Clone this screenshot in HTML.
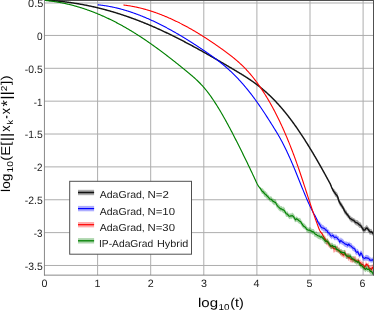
<!DOCTYPE html>
<html><head><meta charset="utf-8"><title>chart</title>
<style>
html,body{margin:0;padding:0;background:#ffffff;}
body{width:374px;height:311px;overflow:hidden;position:relative;font-family:"Liberation Sans",sans-serif;}
text{font-kerning:none;text-rendering:geometricPrecision;}
svg{will-change:transform;}
</style></head><body>
<svg width="374" height="311" viewBox="0 0 374 311" style="position:absolute;left:0;top:0;display:block">
<rect x="0" y="0" width="374" height="311" fill="#ffffff"/>
<path d="M97.60,0.5 V275.1 M150.70,0.5 V275.1 M203.80,0.5 V275.1 M256.90,0.5 V275.1 M310.00,0.5 V275.1 M363.10,0.5 V275.1 M44.5,2.99 H373.5 M44.5,35.45 H373.5 M44.5,68.31 H373.5 M44.5,101.17 H373.5 M44.5,134.03 H373.5 M44.5,166.89 H373.5 M44.5,199.75 H373.5 M44.5,232.61 H373.5 M44.5,265.47 H373.5" stroke="#adadad" stroke-width="1" fill="none"/>
<path d="M44.0,0.5 H374" stroke="#505050" stroke-width="1" fill="none"/>
<clipPath id="c"><rect x="44.5" y="0" width="329.0" height="275.1"/></clipPath>
<g clip-path="url(#c)" fill="none" stroke-linejoin="round" stroke-linecap="butt">
<path d="M330.00,183.44 L330.50,183.90 L331.00,184.82 L331.50,186.32 L332.00,187.43 L332.50,188.06 L333.00,188.20 L333.50,188.85 L334.00,189.47 L334.50,189.36 L335.00,190.05 L335.50,191.28 L336.00,191.86 L336.50,192.02 L337.00,192.43 L337.50,193.34 L338.00,195.24 L338.50,197.06 L339.00,198.44 L339.50,199.54 L340.00,200.63 L340.50,201.20 L341.00,202.18 L341.50,202.47 L342.00,203.35 L342.50,203.92 L343.00,205.44 L343.50,205.95 L344.00,206.85 L344.50,208.08 L345.00,208.83 L345.50,209.81 L346.00,209.75 L346.50,210.53 L347.00,211.41 L347.50,212.92 L348.00,213.00 L348.50,213.15 L349.00,214.44 L349.50,215.87 L350.00,215.54 L350.50,215.83 L351.00,216.66 L351.50,216.80 L352.00,217.21 L352.50,217.21 L353.00,218.00 L353.50,217.98 L354.00,218.16 L354.50,218.70 L355.00,218.59 L355.50,220.08 L356.00,219.86 L356.50,220.07 L357.00,220.36 L357.50,220.26 L358.00,220.32 L358.50,221.42 L359.00,221.61 L359.50,222.28 L360.00,222.23 L360.50,222.45 L361.00,222.69 L361.50,224.62 L362.00,224.98 L362.50,225.85 L363.00,227.10 L363.50,227.39 L364.00,226.91 L364.50,227.08 L365.00,226.84 L365.50,226.24 L366.00,225.60 L366.50,224.73 L367.00,225.43 L367.50,225.38 L368.00,226.69 L368.50,227.03 L369.00,227.71 L369.50,228.49 L370.00,228.79 L370.50,229.14 L371.00,228.76 L371.50,229.11 L372.00,230.20 L372.50,230.74 L373.00,231.14 L373.50,231.49 L373.50,236.67 L373.00,236.00 L372.50,235.20 L372.00,235.28 L371.50,234.27 L371.00,234.52 L370.50,234.42 L370.00,235.12 L369.50,234.21 L369.00,233.20 L368.50,232.24 L368.00,232.16 L367.50,231.04 L367.00,230.75 L366.50,230.51 L366.00,230.95 L365.50,231.71 L365.00,232.09 L364.50,232.38 L364.00,232.88 L363.50,233.27 L363.00,231.50 L362.50,230.98 L362.00,230.22 L361.50,229.60 L361.00,228.34 L360.50,228.08 L360.00,227.93 L359.50,227.90 L359.00,227.60 L358.50,226.72 L358.00,226.42 L357.50,225.79 L357.00,225.66 L356.50,225.31 L356.00,225.53 L355.50,224.70 L355.00,224.40 L354.50,224.03 L354.00,223.02 L353.50,222.59 L353.00,222.60 L352.50,222.30 L352.00,222.35 L351.50,222.53 L351.00,221.79 L350.50,221.45 L350.00,220.81 L349.50,220.20 L349.00,219.52 L348.50,217.96 L348.00,217.83 L347.50,217.72 L347.00,216.72 L346.50,216.16 L346.00,215.85 L345.50,214.53 L345.00,214.71 L344.50,213.76 L344.00,212.67 L343.50,211.20 L343.00,210.30 L342.50,209.04 L342.00,209.30 L341.50,207.98 L341.00,207.46 L340.50,206.50 L340.00,206.31 L339.50,204.92 L339.00,203.96 L338.50,202.96 L338.00,200.38 L337.50,198.84 L337.00,198.54 L336.50,197.83 L336.00,197.05 L335.50,196.63 L335.00,196.42 L334.50,194.69 L334.00,194.09 L333.50,193.48 L333.00,192.10 L332.50,190.86 L332.00,189.38 L331.50,187.96 L331.00,186.29 L330.50,185.20 L330.00,183.44Z" fill="#000000" fill-opacity="0.36" stroke="none"/>
<path d="M44.50,0.20 L45.00,0.22 L45.50,0.25 L46.00,0.27 L46.50,0.29 L47.00,0.32 L47.50,0.34 L48.00,0.37 L48.50,0.40 L49.00,0.43 L49.50,0.46 L50.00,0.49 L50.50,0.52 L51.00,0.56 L51.50,0.59 L52.00,0.63 L52.50,0.66 L53.00,0.70 L53.50,0.74 L54.00,0.78 L54.50,0.82 L55.00,0.86 L55.50,0.90 L56.00,0.94 L56.50,0.98 L57.00,1.03 L57.50,1.07 L58.00,1.12 L58.50,1.17 L59.00,1.22 L59.50,1.27 L60.00,1.32 L60.50,1.37 L61.00,1.42 L61.50,1.47 L62.00,1.53 L62.50,1.58 L63.00,1.64 L63.50,1.70 L64.00,1.75 L64.50,1.81 L65.00,1.87 L65.50,1.93 L66.00,1.99 L66.50,2.06 L67.00,2.12 L67.50,2.18 L68.00,2.25 L68.50,2.32 L69.00,2.38 L69.50,2.45 L70.00,2.52 L70.50,2.59 L71.00,2.66 L71.50,2.73 L72.00,2.81 L72.50,2.88 L73.00,2.96 L73.50,3.03 L74.00,3.11 L74.50,3.19 L75.00,3.27 L75.50,3.35 L76.00,3.43 L76.50,3.51 L77.00,3.59 L77.50,3.67 L78.00,3.76 L78.50,3.84 L79.00,3.93 L79.50,4.01 L80.00,4.10 L80.50,4.19 L81.00,4.28 L81.50,4.37 L82.00,4.46 L82.50,4.56 L83.00,4.65 L83.50,4.74 L84.00,4.84 L84.50,4.94 L85.00,5.03 L85.50,5.13 L86.00,5.23 L86.50,5.33 L87.00,5.43 L87.50,5.53 L88.00,5.63 L88.50,5.74 L89.00,5.84 L89.50,5.95 L90.00,6.05 L90.50,6.16 L91.00,6.27 L91.50,6.38 L92.00,6.49 L92.50,6.60 L93.00,6.71 L93.50,6.82 L94.00,6.94 L94.50,7.05 L95.00,7.17 L95.50,7.28 L96.00,7.40 L96.50,7.52 L97.00,7.64 L97.50,7.76 L98.00,7.88 L98.50,8.00 L99.00,8.12 L99.50,8.25 L100.00,8.37 L100.50,8.50 L101.00,8.62 L101.50,8.75 L102.00,8.88 L102.50,9.01 L103.00,9.14 L103.50,9.27 L104.00,9.40 L104.50,9.53 L105.00,9.67 L105.50,9.80 L106.00,9.94 L106.50,10.07 L107.00,10.21 L107.50,10.35 L108.00,10.49 L108.50,10.63 L109.00,10.77 L109.50,10.91 L110.00,11.05 L110.50,11.20 L111.00,11.34 L111.50,11.49 L112.00,11.63 L112.50,11.78 L113.00,11.93 L113.50,12.07 L114.00,12.22 L114.50,12.37 L115.00,12.53 L115.50,12.68 L116.00,12.83 L116.50,12.99 L117.00,13.14 L117.50,13.30 L118.00,13.45 L118.50,13.61 L119.00,13.77 L119.50,13.93 L120.00,14.09 L120.50,14.25 L121.00,14.41 L121.50,14.57 L122.00,14.74 L122.50,14.90 L123.00,15.07 L123.50,15.23 L124.00,15.40 L124.50,15.57 L125.00,15.74 L125.50,15.91 L126.00,16.08 L126.50,16.25 L127.00,16.42 L127.50,16.60 L128.00,16.77 L128.50,16.95 L129.00,17.12 L129.50,17.30 L130.00,17.48 L130.50,17.66 L131.00,17.83 L131.50,18.02 L132.00,18.20 L132.50,18.38 L133.00,18.56 L133.50,18.75 L134.00,18.93 L134.50,19.12 L135.00,19.30 L135.50,19.49 L136.00,19.68 L136.50,19.87 L137.00,20.06 L137.50,20.25 L138.00,20.44 L138.50,20.63 L139.00,20.82 L139.50,21.02 L140.00,21.21 L140.50,21.41 L141.00,21.60 L141.50,21.80 L142.00,22.00 L142.50,22.20 L143.00,22.40 L143.50,22.60 L144.00,22.80 L144.50,23.01 L145.00,23.21 L145.50,23.41 L146.00,23.62 L146.50,23.82 L147.00,24.03 L147.50,24.24 L148.00,24.45 L148.50,24.66 L149.00,24.87 L149.50,25.08 L150.00,25.29 L150.50,25.50 L151.00,25.72 L151.50,25.93 L152.00,26.15 L152.50,26.36 L153.00,26.58 L153.50,26.80 L154.00,27.02 L154.50,27.24 L155.00,27.46 L155.50,27.68 L156.00,27.90 L156.50,28.12 L157.00,28.35 L157.50,28.57 L158.00,28.79 L158.50,29.02 L159.00,29.25 L159.50,29.47 L160.00,29.70 L160.50,29.93 L161.00,30.16 L161.50,30.39 L162.00,30.62 L162.50,30.86 L163.00,31.09 L163.50,31.32 L164.00,31.56 L164.50,31.79 L165.00,32.03 L165.50,32.26 L166.00,32.50 L166.50,32.74 L167.00,32.98 L167.50,33.22 L168.00,33.46 L168.50,33.70 L169.00,33.94 L169.50,34.18 L170.00,34.42 L170.50,34.67 L171.00,34.91 L171.50,35.15 L172.00,35.40 L172.50,35.65 L173.00,35.89 L173.50,36.14 L174.00,36.39 L174.50,36.64 L175.00,36.89 L175.50,37.14 L176.00,37.39 L176.50,37.64 L177.00,37.89 L177.50,38.14 L178.00,38.40 L178.50,38.65 L179.00,38.90 L179.50,39.16 L180.00,39.42 L180.50,39.67 L181.00,39.93 L181.50,40.19 L182.00,40.44 L182.50,40.70 L183.00,40.96 L183.50,41.22 L184.00,41.48 L184.50,41.74 L185.00,42.00 L185.50,42.27 L186.00,42.53 L186.50,42.79 L187.00,43.06 L187.50,43.32 L188.00,43.59 L188.50,43.85 L189.00,44.12 L189.50,44.38 L190.00,44.65 L190.50,44.92 L191.00,45.19 L191.50,45.45 L192.00,45.72 L192.50,45.99 L193.00,46.26 L193.50,46.53 L194.00,46.80 L194.50,47.08 L195.00,47.35 L195.50,47.62 L196.00,47.89 L196.50,48.17 L197.00,48.44 L197.50,48.72 L198.00,48.99 L198.50,49.27 L199.00,49.54 L199.50,49.82 L200.00,50.09 L200.50,50.37 L201.00,50.65 L201.50,50.93 L202.00,51.20 L202.50,51.48 L203.00,51.76 L203.50,52.04 L204.00,52.32 L204.50,52.60 L205.00,52.88 L205.50,53.17 L206.00,53.45 L206.50,53.73 L207.00,54.01 L207.50,54.29 L208.00,54.58 L208.50,54.86 L209.00,55.14 L209.50,55.43 L210.00,55.71 L210.50,56.00 L211.00,56.28 L211.50,56.57 L212.00,56.86 L212.50,57.14 L213.00,57.43 L213.50,57.72 L214.00,58.00 L214.50,58.29 L215.00,58.58 L215.50,58.87 L216.00,59.16 L216.50,59.45 L217.00,59.73 L217.50,60.02 L218.00,60.31 L218.50,60.60 L219.00,60.89 L219.50,61.19 L220.00,61.48 L220.50,61.77 L221.00,62.06 L221.50,62.35 L222.00,62.64 L222.50,62.94 L223.00,63.23 L223.50,63.52 L224.00,63.81 L224.50,64.11 L225.00,64.40 L225.50,64.70 L226.00,64.99 L226.50,65.28 L227.00,65.58 L227.50,65.87 L228.00,66.17 L228.50,66.46 L229.00,66.76 L229.50,67.05 L230.00,67.35 L230.50,67.65 L231.00,67.94 L231.50,68.24 L232.00,68.54 L232.50,68.83 L233.00,69.13 L233.50,69.43 L234.00,69.72 L234.50,70.02 L235.00,70.32 L235.50,70.62 L236.00,70.92 L236.50,71.21 L237.00,71.51 L237.50,71.81 L238.00,72.11 L238.50,72.41 L239.00,72.72 L239.50,73.02 L240.00,73.32 L240.50,73.63 L241.00,73.93 L241.50,74.24 L242.00,74.55 L242.50,74.86 L243.00,75.17 L243.50,75.48 L244.00,75.80 L244.50,76.11 L245.00,76.43 L245.50,76.75 L246.00,77.07 L246.50,77.39 L247.00,77.71 L247.50,78.04 L248.00,78.37 L248.50,78.70 L249.00,79.03 L249.50,79.36 L250.00,79.70 L250.50,80.04 L251.00,80.38 L251.50,80.73 L252.00,81.07 L252.50,81.42 L253.00,81.78 L253.50,82.13 L254.00,82.49 L254.50,82.85 L255.00,83.21 L255.50,83.58 L256.00,83.95 L256.50,84.32 L257.00,84.70 L257.50,85.08 L258.00,85.46 L258.50,85.85 L259.00,86.24 L259.50,86.64 L260.00,87.03 L260.50,87.44 L261.00,87.84 L261.50,88.25 L262.00,88.66 L262.50,89.08 L263.00,89.50 L263.50,89.93 L264.00,90.35 L264.50,90.79 L265.00,91.22 L265.50,91.66 L266.00,92.11 L266.50,92.56 L267.00,93.01 L267.50,93.47 L268.00,93.93 L268.50,94.39 L269.00,94.86 L269.50,95.34 L270.00,95.81 L270.50,96.29 L271.00,96.78 L271.50,97.27 L272.00,97.76 L272.50,98.26 L273.00,98.76 L273.50,99.27 L274.00,99.78 L274.50,100.30 L275.00,100.82 L275.50,101.34 L276.00,101.87 L276.50,102.40 L277.00,102.94 L277.50,103.48 L278.00,104.03 L278.50,104.58 L279.00,105.13 L279.50,105.69 L280.00,106.26 L280.50,106.82 L281.00,107.40 L281.50,107.97 L282.00,108.56 L282.50,109.14 L283.00,109.73 L283.50,110.33 L284.00,110.93 L284.50,111.53 L285.00,112.14 L285.50,112.76 L286.00,113.38 L286.50,114.00 L287.00,114.63 L287.50,115.26 L288.00,115.90 L288.50,116.54 L289.00,117.19 L289.50,117.84 L290.00,118.50 L290.50,119.16 L291.00,119.83 L291.50,120.50 L292.00,121.18 L292.50,121.86 L293.00,122.54 L293.50,123.23 L294.00,123.92 L294.50,124.62 L295.00,125.32 L295.50,126.03 L296.00,126.74 L296.50,127.45 L297.00,128.17 L297.50,128.90 L298.00,129.62 L298.50,130.35 L299.00,131.09 L299.50,131.83 L300.00,132.57 L300.50,133.32 L301.00,134.07 L301.50,134.83 L302.00,135.59 L302.50,136.35 L303.00,137.12 L303.50,137.89 L304.00,138.67 L304.50,139.45 L305.00,140.23 L305.50,141.02 L306.00,141.81 L306.50,142.60 L307.00,143.40 L307.50,144.20 L308.00,145.00 L308.50,145.81 L309.00,146.62 L309.50,147.44 L310.00,148.26 L310.50,149.08 L311.00,149.90 L311.50,150.73 L312.00,151.56 L312.50,152.40 L313.00,153.24 L313.50,154.08 L314.00,154.92 L314.50,155.77 L315.00,156.62 L315.50,157.48 L316.00,158.33 L316.50,159.19 L317.00,160.06 L317.50,160.92 L318.00,161.79 L318.50,162.66 L319.00,163.54 L319.50,164.41 L320.00,165.30 L320.50,166.18 L321.00,167.06 L321.50,167.95 L322.00,168.84 L322.50,169.74 L323.00,170.63 L323.50,171.53 L324.00,172.44 L324.50,173.34 L325.00,174.25 L325.50,175.15 L326.00,176.07 L326.50,176.98 L327.00,177.90 L327.50,178.82 L328.00,179.74 L328.50,180.66 L329.00,181.58 L329.50,182.51 L330.00,183.44 L330.50,184.43 L331.00,185.63 L331.50,186.97 L332.00,188.11 L332.50,189.14 L333.00,190.21 L333.50,191.15 L334.00,191.71 L334.50,192.10 L335.00,193.04 L335.50,193.95 L336.00,194.43 L336.50,194.97 L337.00,195.63 L337.50,196.47 L338.00,197.74 L338.50,199.99 L339.00,201.18 L339.50,202.18 L340.00,203.15 L340.50,204.00 L341.00,204.73 L341.50,205.43 L342.00,206.16 L342.50,206.92 L343.00,207.80 L343.50,208.66 L344.00,209.77 L344.50,210.88 L345.00,211.59 L345.50,212.30 L346.00,212.93 L346.50,213.54 L347.00,214.22 L347.50,214.86 L348.00,215.41 L348.50,215.88 L349.00,216.93 L349.50,217.95 L350.00,218.31 L350.50,218.64 L351.00,219.00 L351.50,219.35 L352.00,219.71 L352.50,220.06 L353.00,220.12 L353.50,220.16 L354.00,220.69 L354.50,221.20 L355.00,221.90 L355.50,222.59 L356.00,222.62 L356.50,222.64 L357.00,222.85 L357.50,223.06 L358.00,223.53 L358.50,224.00 L359.00,224.53 L359.50,225.08 L360.00,225.12 L360.50,225.25 L361.00,226.08 L361.50,226.95 L362.00,227.60 L362.50,228.22 L363.00,229.20 L363.50,230.08 L364.00,230.15 L364.50,230.04 L365.00,229.91 L365.50,229.09 L366.00,228.27 L366.50,228.03 L367.00,228.02 L367.50,228.53 L368.00,229.30 L368.50,229.76 L369.00,230.51 L369.50,231.21 L370.00,231.65 L370.50,232.02 L371.00,231.96 L371.50,231.82 L372.00,232.35 L372.50,232.85 L373.00,233.44 L373.50,233.98" stroke="#151515" stroke-width="1.45"/>
<path d="M315.30,215.76 L315.80,215.62 L316.30,218.42 L316.80,218.27 L317.30,219.62 L317.80,219.54 L318.30,220.82 L318.80,221.11 L319.30,221.75 L319.80,221.83 L320.30,222.35 L320.80,223.67 L321.30,223.45 L321.80,224.20 L322.30,225.07 L322.80,224.76 L323.30,225.25 L323.80,225.45 L324.30,226.54 L324.80,226.56 L325.30,226.65 L325.80,227.79 L326.30,227.06 L326.80,227.28 L327.30,228.91 L327.80,229.18 L328.30,229.78 L328.80,229.56 L329.30,230.76 L329.80,231.98 L330.30,231.82 L330.80,232.99 L331.30,232.75 L331.80,232.84 L332.30,232.38 L332.80,233.01 L333.30,234.06 L333.80,234.00 L334.30,234.01 L334.80,235.08 L335.30,234.40 L335.80,234.59 L336.30,234.59 L336.80,234.80 L337.30,235.66 L337.80,236.02 L338.30,236.38 L338.80,236.12 L339.30,238.00 L339.80,238.82 L340.30,238.46 L340.80,237.21 L341.30,238.09 L341.80,238.67 L342.30,238.44 L342.80,239.19 L343.30,239.39 L343.80,240.32 L344.30,241.18 L344.80,241.34 L345.30,241.12 L345.80,242.13 L346.30,240.93 L346.80,242.12 L347.30,241.90 L347.80,241.70 L348.30,243.03 L348.80,241.74 L349.30,241.59 L349.80,242.98 L350.30,242.87 L350.80,243.03 L351.30,242.96 L351.80,243.85 L352.30,244.87 L352.80,245.37 L353.30,245.83 L353.80,245.47 L354.30,246.79 L354.80,245.98 L355.30,247.56 L355.80,247.88 L356.30,248.62 L356.80,250.09 L357.30,248.82 L357.80,248.98 L358.30,250.09 L358.80,251.04 L359.30,252.04 L359.80,252.72 L360.30,251.28 L360.80,250.37 L361.30,250.86 L361.80,251.01 L362.30,252.62 L362.80,254.86 L363.30,254.96 L363.80,255.59 L364.30,256.53 L364.80,255.94 L365.30,255.17 L365.80,254.65 L366.30,254.69 L366.80,254.95 L367.30,254.94 L367.80,255.20 L368.30,255.30 L368.80,255.90 L369.30,256.31 L369.80,257.29 L370.30,256.79 L370.80,257.88 L371.30,257.52 L371.80,258.16 L372.30,257.45 L372.80,257.43 L373.30,257.55 L373.50,258.27 L373.50,263.74 L373.30,263.30 L372.80,262.07 L372.30,262.85 L371.80,262.70 L371.30,262.57 L370.80,262.37 L370.30,262.46 L369.80,262.62 L369.30,261.16 L368.80,261.63 L368.30,261.16 L367.80,260.84 L367.30,260.78 L366.80,261.36 L366.30,260.42 L365.80,260.04 L365.30,261.32 L364.80,261.11 L364.30,260.57 L363.80,261.04 L363.30,260.13 L362.80,260.39 L362.30,258.56 L361.80,256.69 L361.30,255.52 L360.80,255.49 L360.30,256.96 L359.80,258.45 L359.30,256.97 L358.80,256.99 L358.30,255.75 L357.80,254.02 L357.30,254.97 L356.80,255.46 L356.30,254.58 L355.80,254.52 L355.30,253.94 L354.80,251.88 L354.30,251.72 L353.80,251.54 L353.30,251.11 L352.80,250.69 L352.30,250.61 L351.80,249.19 L351.30,248.47 L350.80,248.60 L350.30,248.28 L349.80,248.46 L349.30,247.87 L348.80,247.01 L348.30,247.37 L347.80,247.95 L347.30,247.76 L346.80,247.91 L346.30,246.89 L345.80,247.10 L345.30,246.88 L344.80,246.60 L344.30,246.48 L343.80,246.12 L343.30,245.34 L342.80,244.75 L342.30,244.74 L341.80,244.73 L341.30,243.70 L340.80,243.79 L340.30,243.68 L339.80,244.53 L339.30,244.40 L338.80,242.23 L338.30,241.70 L337.80,241.85 L337.30,239.95 L336.80,240.25 L336.30,240.34 L335.80,239.35 L335.30,240.49 L334.80,240.03 L334.30,240.53 L333.80,239.23 L333.30,238.76 L332.80,237.86 L332.30,238.39 L331.80,239.50 L331.30,238.77 L330.80,238.02 L330.30,238.28 L329.80,236.88 L329.30,236.47 L328.80,236.09 L328.30,234.73 L327.80,236.47 L327.30,234.45 L326.80,232.32 L326.30,233.14 L325.80,233.13 L325.30,232.24 L324.80,231.49 L324.30,231.66 L323.80,231.57 L323.30,231.73 L322.80,230.18 L322.30,230.81 L321.80,230.54 L321.30,229.88 L320.80,229.09 L320.30,228.16 L319.80,227.08 L319.30,226.90 L318.80,225.52 L318.30,225.37 L317.80,224.13 L317.30,222.28 L316.80,221.18 L316.30,219.58 L315.80,217.26 L315.30,217.55Z" fill="#0000ff" fill-opacity="0.36" stroke="none"/>
<path d="M97.80,4.80 L98.30,4.85 L98.80,4.90 L99.30,4.95 L99.80,5.01 L100.30,5.07 L100.80,5.12 L101.30,5.19 L101.80,5.25 L102.30,5.31 L102.80,5.38 L103.30,5.45 L103.80,5.52 L104.30,5.59 L104.80,5.67 L105.30,5.74 L105.80,5.82 L106.30,5.90 L106.80,5.98 L107.30,6.07 L107.80,6.15 L108.30,6.24 L108.80,6.33 L109.30,6.42 L109.80,6.52 L110.30,6.61 L110.80,6.71 L111.30,6.81 L111.80,6.91 L112.30,7.01 L112.80,7.12 L113.30,7.22 L113.80,7.33 L114.30,7.44 L114.80,7.55 L115.30,7.67 L115.80,7.78 L116.30,7.90 L116.80,8.02 L117.30,8.14 L117.80,8.26 L118.30,8.38 L118.80,8.51 L119.30,8.64 L119.80,8.77 L120.30,8.90 L120.80,9.03 L121.30,9.17 L121.80,9.30 L122.30,9.44 L122.80,9.58 L123.30,9.72 L123.80,9.86 L124.30,10.01 L124.80,10.16 L125.30,10.30 L125.80,10.45 L126.30,10.61 L126.80,10.76 L127.30,10.91 L127.80,11.07 L128.30,11.23 L128.80,11.39 L129.30,11.55 L129.80,11.71 L130.30,11.88 L130.80,12.04 L131.30,12.21 L131.80,12.38 L132.30,12.55 L132.80,12.72 L133.30,12.90 L133.80,13.07 L134.30,13.25 L134.80,13.43 L135.30,13.61 L135.80,13.79 L136.30,13.98 L136.80,14.16 L137.30,14.35 L137.80,14.54 L138.30,14.73 L138.80,14.92 L139.30,15.11 L139.80,15.30 L140.30,15.50 L140.80,15.70 L141.30,15.90 L141.80,16.10 L142.30,16.30 L142.80,16.50 L143.30,16.71 L143.80,16.91 L144.30,17.12 L144.80,17.33 L145.30,17.54 L145.80,17.75 L146.30,17.96 L146.80,18.18 L147.30,18.39 L147.80,18.61 L148.30,18.83 L148.80,19.05 L149.30,19.27 L149.80,19.50 L150.30,19.72 L150.80,19.95 L151.30,20.17 L151.80,20.40 L152.30,20.63 L152.80,20.86 L153.30,21.10 L153.80,21.33 L154.30,21.56 L154.80,21.80 L155.30,22.04 L155.80,22.28 L156.30,22.52 L156.80,22.76 L157.30,23.00 L157.80,23.25 L158.30,23.49 L158.80,23.74 L159.30,23.99 L159.80,24.24 L160.30,24.49 L160.80,24.74 L161.30,24.99 L161.80,25.25 L162.30,25.50 L162.80,25.76 L163.30,26.02 L163.80,26.28 L164.30,26.54 L164.80,26.80 L165.30,27.06 L165.80,27.33 L166.30,27.59 L166.80,27.86 L167.30,28.13 L167.80,28.40 L168.30,28.67 L168.80,28.94 L169.30,29.21 L169.80,29.49 L170.30,29.76 L170.80,30.04 L171.30,30.31 L171.80,30.59 L172.30,30.87 L172.80,31.15 L173.30,31.43 L173.80,31.71 L174.30,32.00 L174.80,32.28 L175.30,32.57 L175.80,32.86 L176.30,33.14 L176.80,33.43 L177.30,33.72 L177.80,34.01 L178.30,34.31 L178.80,34.60 L179.30,34.89 L179.80,35.19 L180.30,35.49 L180.80,35.78 L181.30,36.08 L181.80,36.38 L182.30,36.68 L182.80,36.98 L183.30,37.28 L183.80,37.59 L184.30,37.89 L184.80,38.20 L185.30,38.50 L185.80,38.81 L186.30,39.12 L186.80,39.43 L187.30,39.74 L187.80,40.05 L188.30,40.36 L188.80,40.67 L189.30,40.99 L189.80,41.30 L190.30,41.62 L190.80,41.93 L191.30,42.25 L191.80,42.57 L192.30,42.89 L192.80,43.21 L193.30,43.53 L193.80,43.85 L194.30,44.17 L194.80,44.50 L195.30,44.82 L195.80,45.15 L196.30,45.47 L196.80,45.80 L197.30,46.13 L197.80,46.45 L198.30,46.78 L198.80,47.11 L199.30,47.44 L199.80,47.78 L200.30,48.11 L200.80,48.44 L201.30,48.77 L201.80,49.11 L202.30,49.44 L202.80,49.78 L203.30,50.12 L203.80,50.46 L204.30,50.79 L204.80,51.13 L205.30,51.47 L205.80,51.81 L206.30,52.16 L206.80,52.50 L207.30,52.84 L207.80,53.19 L208.30,53.54 L208.80,53.88 L209.30,54.23 L209.80,54.58 L210.30,54.94 L210.80,55.29 L211.30,55.65 L211.80,56.00 L212.30,56.36 L212.80,56.72 L213.30,57.09 L213.80,57.45 L214.30,57.82 L214.80,58.19 L215.30,58.56 L215.80,58.93 L216.30,59.31 L216.80,59.69 L217.30,60.07 L217.80,60.45 L218.30,60.83 L218.80,61.22 L219.30,61.61 L219.80,62.01 L220.30,62.40 L220.80,62.80 L221.30,63.20 L221.80,63.61 L222.30,64.01 L222.80,64.43 L223.30,64.84 L223.80,65.26 L224.30,65.68 L224.80,66.10 L225.30,66.53 L225.80,66.96 L226.30,67.39 L226.80,67.83 L227.30,68.27 L227.80,68.72 L228.30,69.17 L228.80,69.62 L229.30,70.07 L229.80,70.54 L230.30,71.00 L230.80,71.47 L231.30,71.94 L231.80,72.42 L232.30,72.90 L232.80,73.38 L233.30,73.87 L233.80,74.37 L234.30,74.86 L234.80,75.36 L235.30,75.87 L235.80,76.38 L236.30,76.89 L236.80,77.41 L237.30,77.93 L237.80,78.46 L238.30,78.99 L238.80,79.53 L239.30,80.07 L239.80,80.61 L240.30,81.16 L240.80,81.71 L241.30,82.27 L241.80,82.83 L242.30,83.39 L242.80,83.96 L243.30,84.54 L243.80,85.12 L244.30,85.70 L244.80,86.29 L245.30,86.88 L245.80,87.48 L246.30,88.08 L246.80,88.69 L247.30,89.30 L247.80,89.91 L248.30,90.53 L248.80,91.16 L249.30,91.78 L249.80,92.42 L250.30,93.06 L250.80,93.70 L251.30,94.35 L251.80,95.00 L252.30,95.66 L252.80,96.32 L253.30,96.99 L253.80,97.66 L254.30,98.33 L254.80,99.01 L255.30,99.70 L255.80,100.39 L256.30,101.09 L256.80,101.79 L257.30,102.49 L257.80,103.20 L258.30,103.91 L258.80,104.63 L259.30,105.35 L259.80,106.08 L260.30,106.81 L260.80,107.54 L261.30,108.28 L261.80,109.02 L262.30,109.76 L262.80,110.51 L263.30,111.26 L263.80,112.01 L264.30,112.77 L264.80,113.53 L265.30,114.30 L265.80,115.06 L266.30,115.83 L266.80,116.61 L267.30,117.38 L267.80,118.16 L268.30,118.94 L268.80,119.72 L269.30,120.51 L269.80,121.30 L270.30,122.09 L270.80,122.88 L271.30,123.67 L271.80,124.47 L272.30,125.27 L272.80,126.07 L273.30,126.87 L273.80,127.67 L274.30,128.48 L274.80,129.29 L275.30,130.10 L275.80,130.91 L276.30,131.73 L276.80,132.55 L277.30,133.39 L277.80,134.23 L278.30,135.07 L278.80,135.93 L279.30,136.80 L279.80,137.68 L280.30,138.57 L280.80,139.48 L281.30,140.40 L281.80,141.33 L282.30,142.27 L282.80,143.23 L283.30,144.20 L283.80,145.19 L284.30,146.18 L284.80,147.19 L285.30,148.21 L285.80,149.24 L286.30,150.28 L286.80,151.33 L287.30,152.40 L287.80,153.47 L288.30,154.56 L288.80,155.65 L289.30,156.76 L289.80,157.88 L290.30,159.00 L290.80,160.14 L291.30,161.29 L291.80,162.44 L292.30,163.61 L292.80,164.78 L293.30,165.96 L293.80,167.15 L294.30,168.35 L294.80,169.56 L295.30,170.78 L295.80,172.00 L296.30,173.23 L296.80,174.46 L297.30,175.70 L297.80,176.95 L298.30,178.19 L298.80,179.44 L299.30,180.69 L299.80,181.94 L300.30,183.19 L300.80,184.44 L301.30,185.69 L301.80,186.93 L302.30,188.17 L302.80,189.40 L303.30,190.63 L303.80,191.85 L304.30,193.07 L304.80,194.28 L305.30,195.48 L305.80,196.66 L306.30,197.84 L306.80,199.01 L307.30,200.16 L307.80,201.30 L308.30,202.43 L308.80,203.54 L309.30,204.63 L309.80,205.71 L310.30,206.77 L310.80,207.82 L311.30,208.84 L311.80,209.84 L312.30,210.83 L312.80,211.79 L313.30,212.72 L313.80,213.64 L314.30,214.53 L314.80,215.39 L315.30,216.26 L315.80,217.19 L316.30,218.20 L316.80,219.24 L317.30,220.50 L317.80,221.86 L318.30,222.54 L318.80,223.13 L319.30,223.93 L319.80,224.64 L320.30,225.63 L320.80,226.55 L321.30,227.13 L321.80,227.68 L322.30,227.83 L322.80,227.96 L323.30,228.12 L323.80,228.29 L324.30,228.56 L324.80,228.84 L325.30,229.47 L325.80,230.11 L326.30,230.17 L326.80,230.21 L327.30,231.34 L327.80,232.47 L328.30,232.69 L328.80,232.88 L329.30,233.52 L329.80,234.13 L330.30,234.92 L330.80,235.70 L331.30,235.91 L331.80,236.10 L332.30,235.67 L332.80,235.23 L333.30,235.92 L333.80,236.61 L334.30,237.10 L334.80,237.60 L335.30,237.33 L335.80,237.07 L336.30,237.27 L336.80,237.49 L337.30,238.22 L337.80,239.05 L338.30,239.34 L338.80,239.61 L339.30,240.97 L339.80,242.19 L340.30,241.32 L340.80,240.40 L341.30,240.85 L341.80,241.29 L342.30,241.81 L342.80,242.32 L343.30,242.56 L343.80,242.82 L344.30,243.30 L344.80,243.80 L345.30,244.06 L345.80,244.35 L346.30,244.33 L346.80,244.32 L347.30,244.96 L347.80,245.62 L348.30,244.77 L348.80,243.91 L349.30,244.80 L349.80,245.72 L350.30,245.75 L350.80,245.79 L351.30,246.35 L351.80,246.93 L352.30,247.48 L352.80,248.08 L353.30,248.15 L353.80,248.24 L354.30,248.65 L354.80,249.07 L355.30,250.26 L355.80,251.45 L356.30,251.92 L356.80,252.36 L357.30,252.00 L357.80,251.57 L358.30,252.92 L358.80,254.26 L359.30,254.98 L359.80,255.72 L360.30,254.28 L360.80,252.87 L361.30,253.39 L361.80,254.04 L362.30,255.78 L362.80,257.55 L363.30,257.80 L363.80,257.98 L364.30,258.27 L364.80,258.41 L365.30,257.98 L365.80,257.52 L366.30,257.83 L366.80,258.12 L367.30,258.14 L367.80,258.16 L368.30,258.27 L368.80,258.40 L369.30,259.27 L369.80,260.17 L370.30,260.08 L370.80,260.02 L371.30,260.12 L371.80,260.24 L372.30,259.93 L372.80,259.63 L373.30,260.45 L373.50,260.78" stroke="#0000ff" stroke-width="1.1"/>
<path d="M320.40,232.26 L320.90,233.75 L321.40,231.54 L321.90,232.31 L322.40,232.38 L322.90,233.51 L323.40,234.49 L323.90,235.57 L324.40,234.57 L324.90,237.16 L325.40,235.64 L325.90,237.79 L326.40,239.69 L326.90,239.40 L327.40,238.08 L327.90,239.20 L328.40,240.24 L328.90,241.15 L329.40,242.65 L329.90,241.23 L330.40,243.15 L330.90,243.88 L331.40,244.44 L331.90,244.31 L332.40,245.08 L332.90,245.10 L333.40,246.26 L333.90,246.24 L334.40,247.43 L334.90,244.52 L335.40,247.10 L335.90,245.95 L336.40,246.01 L336.90,245.69 L337.40,245.18 L337.90,247.12 L338.40,247.63 L338.90,248.43 L339.40,246.70 L339.90,249.59 L340.40,249.21 L340.90,249.68 L341.40,250.21 L341.90,250.43 L342.40,250.43 L342.90,251.36 L343.40,252.26 L343.90,251.58 L344.40,250.06 L344.90,250.76 L345.40,250.06 L345.90,251.97 L346.40,254.44 L346.90,253.72 L347.40,253.26 L347.90,252.94 L348.40,253.86 L348.90,253.45 L349.40,255.17 L349.90,254.79 L350.40,256.26 L350.90,255.95 L351.40,256.74 L351.90,257.82 L352.40,256.14 L352.90,256.69 L353.40,256.57 L353.90,257.76 L354.40,256.07 L354.90,256.24 L355.40,256.29 L355.90,256.55 L356.40,258.34 L356.90,260.57 L357.40,258.28 L357.90,259.16 L358.40,257.94 L358.90,258.17 L359.40,260.20 L359.90,259.94 L360.40,259.30 L360.90,262.36 L361.40,260.26 L361.90,262.03 L362.40,261.90 L362.90,261.44 L363.40,262.25 L363.90,264.16 L364.40,264.88 L364.90,264.30 L365.40,263.71 L365.90,260.60 L366.40,262.48 L366.90,263.54 L367.40,262.93 L367.90,263.39 L368.40,261.91 L368.90,264.51 L369.40,265.55 L369.90,265.44 L370.40,266.42 L370.90,265.62 L371.40,266.80 L371.90,264.16 L372.40,264.35 L372.90,265.45 L373.40,265.72 L373.50,265.80 L373.50,270.84 L373.40,271.75 L372.90,271.42 L372.40,270.40 L371.90,273.17 L371.40,272.18 L370.90,272.29 L370.40,272.12 L369.90,272.68 L369.40,271.56 L368.90,269.98 L368.40,269.96 L367.90,267.56 L367.40,267.20 L366.90,267.51 L366.40,267.56 L365.90,268.20 L365.40,268.62 L364.90,269.62 L364.40,270.16 L363.90,269.82 L363.40,267.71 L362.90,268.46 L362.40,266.49 L361.90,266.85 L361.40,266.94 L360.90,266.31 L360.40,265.31 L359.90,265.41 L359.40,266.24 L358.90,265.56 L358.40,263.53 L357.90,262.48 L357.40,264.75 L356.90,261.18 L356.40,263.11 L355.90,263.30 L355.40,263.14 L354.90,262.90 L354.40,261.88 L353.90,262.37 L353.40,262.17 L352.90,262.38 L352.40,263.19 L351.90,261.71 L351.40,262.93 L350.90,261.59 L350.40,262.61 L349.90,262.07 L349.40,259.26 L348.90,260.54 L348.40,261.22 L347.90,259.43 L347.40,258.74 L346.90,258.96 L346.40,258.22 L345.90,257.13 L345.40,255.02 L344.90,257.60 L344.40,257.30 L343.90,257.92 L343.40,257.54 L342.90,256.86 L342.40,256.80 L341.90,256.76 L341.40,256.14 L340.90,255.48 L340.40,255.41 L339.90,253.83 L339.40,253.79 L338.90,252.79 L338.40,253.52 L337.90,253.11 L337.40,251.48 L336.90,251.20 L336.40,252.06 L335.90,251.70 L335.40,251.26 L334.90,252.59 L334.40,252.12 L333.90,252.96 L333.40,252.33 L332.90,249.56 L332.40,248.19 L331.90,248.75 L331.40,249.42 L330.90,249.07 L330.40,247.76 L329.90,247.56 L329.40,248.28 L328.90,245.95 L328.40,247.46 L327.90,245.96 L327.40,244.94 L326.90,244.48 L326.40,245.49 L325.90,244.33 L325.40,241.25 L324.90,242.36 L324.40,240.62 L323.90,239.42 L323.40,239.00 L322.90,238.97 L322.40,236.90 L321.90,234.26 L321.40,233.07 L320.90,232.05 L320.40,233.48Z" fill="#ff0000" fill-opacity="0.36" stroke="none"/>
<path d="M123.40,5.00 L123.90,5.06 L124.40,5.12 L124.90,5.18 L125.40,5.25 L125.90,5.31 L126.40,5.38 L126.90,5.45 L127.40,5.52 L127.90,5.60 L128.40,5.67 L128.90,5.75 L129.40,5.83 L129.90,5.91 L130.40,6.00 L130.90,6.08 L131.40,6.17 L131.90,6.26 L132.40,6.35 L132.90,6.45 L133.40,6.54 L133.90,6.64 L134.40,6.74 L134.90,6.84 L135.40,6.94 L135.90,7.05 L136.40,7.16 L136.90,7.26 L137.40,7.38 L137.90,7.49 L138.40,7.60 L138.90,7.72 L139.40,7.84 L139.90,7.96 L140.40,8.08 L140.90,8.20 L141.40,8.33 L141.90,8.45 L142.40,8.58 L142.90,8.71 L143.40,8.85 L143.90,8.98 L144.40,9.12 L144.90,9.26 L145.40,9.40 L145.90,9.54 L146.40,9.68 L146.90,9.83 L147.40,9.97 L147.90,10.12 L148.40,10.27 L148.90,10.43 L149.40,10.58 L149.90,10.74 L150.40,10.89 L150.90,11.05 L151.40,11.21 L151.90,11.38 L152.40,11.54 L152.90,11.71 L153.40,11.88 L153.90,12.05 L154.40,12.22 L154.90,12.39 L155.40,12.56 L155.90,12.74 L156.40,12.92 L156.90,13.10 L157.40,13.28 L157.90,13.46 L158.40,13.65 L158.90,13.84 L159.40,14.02 L159.90,14.21 L160.40,14.41 L160.90,14.60 L161.40,14.79 L161.90,14.99 L162.40,15.19 L162.90,15.39 L163.40,15.59 L163.90,15.79 L164.40,16.00 L164.90,16.20 L165.40,16.41 L165.90,16.62 L166.40,16.83 L166.90,17.04 L167.40,17.26 L167.90,17.47 L168.40,17.69 L168.90,17.91 L169.40,18.13 L169.90,18.35 L170.40,18.58 L170.90,18.80 L171.40,19.03 L171.90,19.26 L172.40,19.49 L172.90,19.72 L173.40,19.95 L173.90,20.19 L174.40,20.42 L174.90,20.66 L175.40,20.90 L175.90,21.14 L176.40,21.38 L176.90,21.62 L177.40,21.87 L177.90,22.12 L178.40,22.36 L178.90,22.61 L179.40,22.86 L179.90,23.12 L180.40,23.37 L180.90,23.62 L181.40,23.88 L181.90,24.14 L182.40,24.40 L182.90,24.66 L183.40,24.92 L183.90,25.19 L184.40,25.45 L184.90,25.72 L185.40,25.99 L185.90,26.26 L186.40,26.53 L186.90,26.80 L187.40,27.07 L187.90,27.35 L188.40,27.63 L188.90,27.90 L189.40,28.18 L189.90,28.46 L190.40,28.75 L190.90,29.03 L191.40,29.31 L191.90,29.60 L192.40,29.89 L192.90,30.18 L193.40,30.47 L193.90,30.76 L194.40,31.05 L194.90,31.34 L195.40,31.64 L195.90,31.94 L196.40,32.23 L196.90,32.53 L197.40,32.83 L197.90,33.14 L198.40,33.44 L198.90,33.74 L199.40,34.05 L199.90,34.36 L200.40,34.67 L200.90,34.98 L201.40,35.29 L201.90,35.60 L202.40,35.91 L202.90,36.23 L203.40,36.54 L203.90,36.86 L204.40,37.18 L204.90,37.50 L205.40,37.82 L205.90,38.14 L206.40,38.46 L206.90,38.79 L207.40,39.11 L207.90,39.44 L208.40,39.77 L208.90,40.10 L209.40,40.43 L209.90,40.76 L210.40,41.09 L210.90,41.43 L211.40,41.76 L211.90,42.10 L212.40,42.44 L212.90,42.78 L213.40,43.12 L213.90,43.46 L214.40,43.80 L214.90,44.14 L215.40,44.49 L215.90,44.83 L216.40,45.18 L216.90,45.53 L217.40,45.87 L217.90,46.22 L218.40,46.58 L218.90,46.93 L219.40,47.28 L219.90,47.64 L220.40,47.99 L220.90,48.35 L221.40,48.70 L221.90,49.06 L222.40,49.42 L222.90,49.78 L223.40,50.15 L223.90,50.51 L224.40,50.87 L224.90,51.24 L225.40,51.60 L225.90,51.97 L226.40,52.34 L226.90,52.71 L227.40,53.08 L227.90,53.46 L228.40,53.83 L228.90,54.21 L229.40,54.59 L229.90,54.98 L230.40,55.36 L230.90,55.75 L231.40,56.14 L231.90,56.54 L232.40,56.93 L232.90,57.33 L233.40,57.74 L233.90,58.14 L234.40,58.55 L234.90,58.97 L235.40,59.38 L235.90,59.80 L236.40,60.23 L236.90,60.66 L237.40,61.09 L237.90,61.53 L238.40,61.97 L238.90,62.42 L239.40,62.87 L239.90,63.33 L240.40,63.79 L240.90,64.25 L241.40,64.73 L241.90,65.20 L242.40,65.68 L242.90,66.17 L243.40,66.67 L243.90,67.16 L244.40,67.67 L244.90,68.18 L245.40,68.70 L245.90,69.22 L246.40,69.75 L246.90,70.29 L247.40,70.83 L247.90,71.38 L248.40,71.94 L248.90,72.50 L249.40,73.07 L249.90,73.65 L250.40,74.23 L250.90,74.82 L251.40,75.42 L251.90,76.02 L252.40,76.63 L252.90,77.25 L253.40,77.87 L253.90,78.51 L254.40,79.14 L254.90,79.79 L255.40,80.44 L255.90,81.10 L256.40,81.77 L256.90,82.44 L257.40,83.13 L257.90,83.81 L258.40,84.51 L258.90,85.21 L259.40,85.92 L259.90,86.64 L260.40,87.37 L260.90,88.10 L261.40,88.84 L261.90,89.59 L262.40,90.34 L262.90,91.11 L263.40,91.88 L263.90,92.65 L264.40,93.44 L264.90,94.23 L265.40,95.03 L265.90,95.84 L266.40,96.66 L266.90,97.48 L267.40,98.31 L267.90,99.15 L268.40,100.00 L268.90,100.86 L269.40,101.72 L269.90,102.59 L270.40,103.47 L270.90,104.36 L271.40,105.26 L271.90,106.17 L272.40,107.08 L272.90,108.00 L273.40,108.93 L273.90,109.87 L274.40,110.82 L274.90,111.78 L275.40,112.74 L275.90,113.72 L276.40,114.70 L276.90,115.70 L277.40,116.70 L277.90,117.71 L278.40,118.73 L278.90,119.76 L279.40,120.80 L279.90,121.85 L280.40,122.90 L280.90,123.97 L281.40,125.05 L281.90,126.14 L282.40,127.23 L282.90,128.34 L283.40,129.46 L283.90,130.58 L284.40,131.72 L284.90,132.86 L285.40,134.02 L285.90,135.19 L286.40,136.36 L286.90,137.55 L287.40,138.75 L287.90,139.96 L288.40,141.18 L288.90,142.40 L289.40,143.64 L289.90,144.89 L290.40,146.16 L290.90,147.43 L291.40,148.71 L291.90,150.00 L292.40,151.31 L292.90,152.62 L293.40,153.95 L293.90,155.29 L294.40,156.64 L294.90,158.00 L295.40,159.37 L295.90,160.76 L296.40,162.15 L296.90,163.56 L297.40,164.98 L297.90,166.41 L298.40,167.85 L298.90,169.30 L299.40,170.76 L299.90,172.24 L300.40,173.72 L300.90,175.22 L301.40,176.72 L301.90,178.22 L302.40,179.74 L302.90,181.26 L303.40,182.78 L303.90,184.31 L304.40,185.85 L304.90,187.38 L305.40,188.92 L305.90,190.46 L306.40,192.00 L306.90,193.54 L307.40,195.08 L307.90,196.62 L308.40,198.15 L308.90,199.68 L309.40,201.21 L309.90,202.74 L310.40,204.25 L310.90,205.77 L311.40,207.27 L311.90,208.77 L312.40,210.26 L312.90,211.74 L313.40,213.21 L313.90,214.67 L314.40,216.12 L314.90,217.56 L315.40,218.99 L315.90,220.40 L316.40,221.80 L316.90,223.18 L317.40,224.54 L317.90,225.90 L318.40,227.23 L318.90,228.55 L319.40,229.84 L319.90,230.81 L320.40,231.69 L320.90,232.39 L321.40,232.93 L321.90,233.58 L322.40,234.26 L322.90,235.26 L323.40,236.36 L323.90,237.27 L324.40,238.16 L324.90,238.70 L325.40,239.18 L325.90,240.37 L326.40,241.56 L326.90,241.62 L327.40,241.63 L327.90,242.56 L328.40,243.41 L328.90,243.99 L329.40,244.53 L329.90,245.06 L330.40,245.57 L330.90,246.19 L331.40,246.79 L331.90,246.74 L332.40,246.66 L332.90,247.51 L333.40,248.37 L333.90,248.59 L334.40,248.80 L334.90,248.84 L335.40,248.87 L335.90,248.96 L336.40,249.04 L336.90,249.26 L337.40,249.48 L337.90,250.23 L338.40,250.98 L338.90,250.84 L339.40,250.68 L339.90,251.24 L340.40,251.79 L340.90,252.68 L341.40,253.58 L341.90,253.86 L342.40,254.14 L342.90,254.59 L343.40,255.06 L343.90,254.53 L344.40,253.99 L344.90,253.78 L345.40,253.58 L345.90,254.64 L346.40,255.75 L346.90,256.02 L347.40,256.31 L347.90,257.04 L348.40,257.79 L348.90,257.60 L349.40,257.39 L349.90,258.20 L350.40,259.01 L350.90,259.25 L351.40,259.46 L351.90,259.50 L352.40,259.49 L352.90,259.76 L353.40,260.02 L353.90,259.86 L354.40,259.69 L354.90,259.95 L355.40,260.20 L355.90,260.48 L356.40,260.76 L356.90,261.31 L357.40,261.88 L357.90,261.19 L358.40,260.54 L358.90,261.85 L359.40,263.23 L359.90,262.92 L360.40,262.65 L360.90,263.62 L361.40,264.58 L361.90,264.52 L362.40,264.43 L362.90,264.71 L363.40,264.93 L363.90,266.26 L364.40,267.56 L364.90,266.76 L365.40,265.95 L365.90,265.03 L366.40,264.10 L366.90,264.52 L367.40,264.94 L367.90,265.38 L368.40,265.84 L368.90,267.41 L369.40,269.00 L369.90,268.71 L370.40,268.45 L370.90,269.07 L371.40,269.70 L371.90,268.48 L372.40,267.28 L372.90,268.18 L373.40,269.08 L373.50,269.17" stroke="#ff0000" stroke-width="1.1"/>
<path d="M258.00,185.38 L258.50,185.54 L259.00,186.09 L259.50,186.71 L260.00,186.96 L260.50,186.96 L261.00,187.83 L261.50,187.98 L262.00,188.57 L262.50,188.25 L263.00,188.44 L263.50,189.63 L264.00,189.53 L264.50,190.75 L265.00,191.12 L265.50,191.24 L266.00,191.78 L266.50,193.04 L267.00,192.05 L267.50,194.00 L268.00,194.97 L268.50,194.46 L269.00,195.27 L269.50,196.38 L270.00,196.98 L270.50,195.92 L271.00,196.51 L271.50,196.48 L272.00,197.59 L272.50,198.25 L273.00,198.65 L273.50,198.42 L274.00,199.02 L274.50,199.17 L275.00,199.16 L275.50,199.36 L276.00,200.51 L276.50,201.25 L277.00,202.99 L277.50,202.95 L278.00,202.98 L278.50,204.49 L279.00,204.22 L279.50,205.16 L280.00,205.52 L280.50,206.17 L281.00,206.17 L281.50,205.89 L282.00,206.56 L282.50,207.80 L283.00,206.13 L283.50,207.12 L284.00,207.69 L284.50,207.59 L285.00,208.38 L285.50,210.78 L286.00,210.41 L286.50,211.97 L287.00,211.45 L287.50,211.35 L288.00,212.32 L288.50,213.16 L289.00,213.69 L289.50,213.58 L290.00,213.44 L290.50,213.20 L291.00,213.65 L291.50,213.41 L292.00,212.46 L292.50,212.75 L293.00,213.41 L293.50,213.50 L294.00,214.44 L294.50,214.88 L295.00,216.16 L295.50,217.20 L296.00,216.89 L296.50,215.94 L297.00,217.12 L297.50,216.63 L298.00,218.27 L298.50,217.80 L299.00,218.01 L299.50,218.19 L300.00,217.38 L300.50,218.64 L301.00,219.57 L301.50,221.06 L302.00,220.56 L302.50,222.62 L303.00,222.48 L303.50,223.60 L304.00,222.58 L304.50,223.92 L305.00,224.05 L305.50,224.75 L306.00,225.42 L306.50,225.79 L307.00,227.07 L307.50,227.36 L308.00,227.49 L308.50,227.79 L309.00,227.72 L309.50,227.16 L310.00,227.00 L310.50,227.35 L311.00,228.64 L311.50,228.59 L312.00,228.72 L312.50,228.99 L313.00,229.03 L313.50,228.97 L314.00,229.62 L314.50,230.30 L315.00,231.87 L315.50,231.47 L316.00,231.39 L316.50,231.25 L317.00,232.00 L317.50,233.05 L318.00,233.28 L318.50,233.09 L319.00,233.23 L319.50,233.13 L320.00,233.34 L320.50,234.86 L321.00,234.26 L321.50,234.88 L322.00,234.20 L322.50,235.09 L323.00,235.95 L323.50,236.03 L324.00,236.09 L324.50,236.82 L325.00,237.90 L325.50,238.64 L326.00,238.32 L326.50,238.54 L327.00,238.68 L327.50,238.53 L328.00,239.25 L328.50,239.97 L329.00,241.00 L329.50,241.86 L330.00,242.43 L330.50,243.49 L331.00,243.15 L331.50,242.69 L332.00,242.54 L332.50,242.94 L333.00,243.47 L333.50,244.59 L334.00,243.92 L334.50,244.18 L335.00,244.42 L335.50,244.35 L336.00,245.11 L336.50,246.68 L337.00,246.76 L337.50,246.27 L338.00,247.21 L338.50,247.79 L339.00,247.52 L339.50,248.85 L340.00,248.68 L340.50,249.47 L341.00,249.23 L341.50,248.83 L342.00,249.71 L342.50,249.98 L343.00,250.49 L343.50,249.93 L344.00,249.98 L344.50,249.75 L345.00,250.32 L345.50,251.90 L346.00,252.21 L346.50,253.54 L347.00,253.19 L347.50,253.92 L348.00,253.55 L348.50,253.59 L349.00,253.43 L349.50,253.49 L350.00,253.61 L350.50,253.65 L351.00,254.09 L351.50,255.67 L352.00,256.79 L352.50,255.97 L353.00,256.18 L353.50,256.27 L354.00,256.31 L354.50,257.70 L355.00,257.87 L355.50,258.60 L356.00,259.24 L356.50,259.54 L357.00,258.60 L357.50,259.81 L358.00,259.37 L358.50,259.03 L359.00,259.84 L359.50,260.47 L360.00,262.30 L360.50,263.13 L361.00,262.90 L361.50,263.13 L362.00,263.48 L362.50,263.77 L363.00,264.37 L363.50,265.53 L364.00,265.47 L364.50,265.64 L365.00,265.80 L365.50,266.44 L366.00,265.57 L366.50,265.43 L367.00,266.10 L367.50,265.77 L368.00,266.48 L368.50,266.61 L369.00,266.77 L369.50,266.67 L370.00,268.35 L370.50,268.34 L371.00,268.13 L371.50,268.18 L372.00,269.31 L372.50,270.42 L373.00,271.53 L373.50,272.18 L373.50,278.23 L373.00,277.38 L372.50,275.83 L372.00,275.35 L371.50,274.37 L371.00,274.43 L370.50,274.18 L370.00,273.59 L369.50,273.18 L369.00,272.24 L368.50,271.84 L368.00,271.75 L367.50,272.33 L367.00,271.41 L366.50,270.86 L366.00,271.40 L365.50,272.14 L365.00,271.69 L364.50,271.28 L364.00,270.32 L363.50,270.28 L363.00,270.55 L362.50,268.81 L362.00,267.87 L361.50,268.80 L361.00,268.95 L360.50,268.30 L360.00,267.12 L359.50,266.06 L359.00,265.70 L358.50,264.39 L358.00,265.30 L357.50,264.11 L357.00,264.42 L356.50,264.74 L356.00,264.49 L355.50,263.45 L355.00,263.08 L354.50,263.47 L354.00,262.66 L353.50,261.89 L353.00,261.43 L352.50,261.89 L352.00,261.49 L351.50,260.13 L351.00,260.76 L350.50,258.71 L350.00,258.91 L349.50,258.65 L349.00,258.49 L348.50,259.44 L348.00,258.55 L347.50,258.60 L347.00,258.88 L346.50,258.90 L346.00,258.90 L345.50,257.67 L345.00,256.33 L344.50,255.44 L344.00,255.22 L343.50,255.67 L343.00,255.36 L342.50,255.84 L342.00,255.01 L341.50,253.99 L341.00,254.71 L340.50,255.19 L340.00,253.89 L339.50,254.32 L339.00,252.65 L338.50,252.57 L338.00,251.83 L337.50,252.75 L337.00,251.71 L336.50,252.48 L336.00,250.14 L335.50,249.93 L335.00,249.52 L334.50,249.51 L334.00,249.40 L333.50,249.80 L333.00,248.52 L332.50,248.64 L332.00,248.53 L331.50,249.29 L331.00,248.93 L330.50,249.13 L330.00,247.72 L329.50,247.36 L329.00,245.98 L328.50,245.72 L328.00,244.75 L327.50,244.04 L327.00,244.06 L326.50,244.24 L326.00,243.86 L325.50,244.26 L325.00,243.30 L324.50,243.66 L324.00,242.86 L323.50,241.40 L323.00,241.24 L322.50,240.58 L322.00,240.19 L321.50,239.43 L321.00,239.27 L320.50,240.07 L320.00,239.54 L319.50,239.25 L319.00,239.26 L318.50,238.96 L318.00,238.62 L317.50,238.53 L317.00,237.41 L316.50,237.40 L316.00,237.49 L315.50,236.96 L315.00,236.24 L314.50,237.14 L314.00,235.51 L313.50,234.52 L313.00,234.19 L312.50,235.10 L312.00,234.24 L311.50,233.48 L311.00,234.58 L310.50,233.26 L310.00,233.17 L309.50,233.20 L309.00,232.84 L308.50,233.00 L308.00,233.52 L307.50,231.98 L307.00,232.50 L306.50,231.94 L306.00,230.56 L305.50,229.79 L305.00,229.86 L304.50,229.04 L304.00,228.86 L303.50,228.51 L303.00,228.16 L302.50,227.53 L302.00,226.71 L301.50,226.29 L301.00,225.03 L300.50,224.35 L300.00,224.11 L299.50,223.94 L299.00,223.23 L298.50,223.40 L298.00,222.45 L297.50,222.18 L297.00,221.85 L296.50,221.55 L296.00,222.09 L295.50,221.92 L295.00,222.56 L294.50,221.08 L294.00,220.01 L293.50,219.07 L293.00,218.79 L292.50,218.23 L292.00,218.08 L291.50,219.31 L291.00,218.55 L290.50,218.41 L290.00,219.02 L289.50,219.16 L289.00,218.38 L288.50,218.20 L288.00,216.92 L287.50,216.75 L287.00,217.04 L286.50,216.86 L286.00,216.74 L285.50,215.24 L285.00,214.48 L284.50,213.19 L284.00,213.23 L283.50,213.23 L283.00,213.11 L282.50,212.17 L282.00,211.90 L281.50,211.27 L281.00,211.13 L280.50,211.41 L280.00,211.54 L279.50,210.53 L279.00,210.65 L278.50,209.40 L278.00,209.41 L277.50,208.06 L277.00,208.59 L276.50,207.32 L276.00,206.41 L275.50,204.78 L275.00,204.33 L274.50,205.17 L274.00,205.17 L273.50,204.69 L273.00,203.69 L272.50,203.61 L272.00,203.54 L271.50,201.99 L271.00,202.05 L270.50,201.97 L270.00,201.95 L269.50,201.11 L269.00,200.50 L268.50,199.74 L268.00,199.97 L267.50,199.07 L267.00,198.86 L266.50,198.68 L266.00,197.43 L265.50,197.52 L265.00,196.58 L264.50,196.88 L264.00,196.15 L263.50,194.66 L263.00,194.09 L262.50,194.04 L262.00,193.99 L261.50,192.78 L261.00,191.92 L260.50,190.52 L260.00,188.80 L259.50,188.45 L259.00,187.17 L258.50,186.22 L258.00,185.38Z" fill="#008000" fill-opacity="0.36" stroke="none"/>
<path d="M44.50,0.40 L45.00,0.45 L45.50,0.49 L46.00,0.54 L46.50,0.59 L47.00,0.64 L47.50,0.69 L48.00,0.74 L48.50,0.80 L49.00,0.86 L49.50,0.92 L50.00,0.98 L50.50,1.04 L51.00,1.10 L51.50,1.17 L52.00,1.23 L52.50,1.30 L53.00,1.37 L53.50,1.44 L54.00,1.51 L54.50,1.59 L55.00,1.66 L55.50,1.74 L56.00,1.82 L56.50,1.90 L57.00,1.98 L57.50,2.07 L58.00,2.15 L58.50,2.24 L59.00,2.33 L59.50,2.42 L60.00,2.51 L60.50,2.60 L61.00,2.70 L61.50,2.79 L62.00,2.89 L62.50,2.99 L63.00,3.09 L63.50,3.19 L64.00,3.30 L64.50,3.40 L65.00,3.51 L65.50,3.62 L66.00,3.73 L66.50,3.84 L67.00,3.96 L67.50,4.07 L68.00,4.19 L68.50,4.30 L69.00,4.42 L69.50,4.54 L70.00,4.67 L70.50,4.79 L71.00,4.92 L71.50,5.04 L72.00,5.17 L72.50,5.30 L73.00,5.43 L73.50,5.57 L74.00,5.70 L74.50,5.84 L75.00,5.98 L75.50,6.12 L76.00,6.26 L76.50,6.40 L77.00,6.54 L77.50,6.69 L78.00,6.84 L78.50,6.99 L79.00,7.14 L79.50,7.29 L80.00,7.44 L80.50,7.59 L81.00,7.75 L81.50,7.91 L82.00,8.07 L82.50,8.23 L83.00,8.39 L83.50,8.55 L84.00,8.72 L84.50,8.89 L85.00,9.05 L85.50,9.22 L86.00,9.39 L86.50,9.57 L87.00,9.74 L87.50,9.92 L88.00,10.09 L88.50,10.27 L89.00,10.45 L89.50,10.63 L90.00,10.82 L90.50,11.00 L91.00,11.19 L91.50,11.38 L92.00,11.56 L92.50,11.75 L93.00,11.95 L93.50,12.14 L94.00,12.34 L94.50,12.53 L95.00,12.73 L95.50,12.93 L96.00,13.13 L96.50,13.33 L97.00,13.54 L97.50,13.74 L98.00,13.95 L98.50,14.16 L99.00,14.37 L99.50,14.58 L100.00,14.79 L100.50,15.00 L101.00,15.22 L101.50,15.44 L102.00,15.66 L102.50,15.88 L103.00,16.10 L103.50,16.32 L104.00,16.54 L104.50,16.77 L105.00,17.00 L105.50,17.23 L106.00,17.46 L106.50,17.69 L107.00,17.92 L107.50,18.16 L108.00,18.39 L108.50,18.63 L109.00,18.87 L109.50,19.11 L110.00,19.35 L110.50,19.59 L111.00,19.84 L111.50,20.08 L112.00,20.33 L112.50,20.58 L113.00,20.83 L113.50,21.08 L114.00,21.34 L114.50,21.59 L115.00,21.85 L115.50,22.10 L116.00,22.36 L116.50,22.62 L117.00,22.88 L117.50,23.15 L118.00,23.41 L118.50,23.68 L119.00,23.95 L119.50,24.22 L120.00,24.49 L120.50,24.76 L121.00,25.03 L121.50,25.31 L122.00,25.58 L122.50,25.86 L123.00,26.14 L123.50,26.42 L124.00,26.70 L124.50,26.98 L125.00,27.27 L125.50,27.55 L126.00,27.84 L126.50,28.13 L127.00,28.42 L127.50,28.71 L128.00,29.00 L128.50,29.30 L129.00,29.59 L129.50,29.89 L130.00,30.19 L130.50,30.49 L131.00,30.79 L131.50,31.09 L132.00,31.40 L132.50,31.70 L133.00,32.01 L133.50,32.32 L134.00,32.63 L134.50,32.94 L135.00,33.25 L135.50,33.56 L136.00,33.88 L136.50,34.19 L137.00,34.51 L137.50,34.83 L138.00,35.15 L138.50,35.47 L139.00,35.79 L139.50,36.12 L140.00,36.44 L140.50,36.77 L141.00,37.10 L141.50,37.43 L142.00,37.76 L142.50,38.09 L143.00,38.42 L143.50,38.75 L144.00,39.09 L144.50,39.42 L145.00,39.76 L145.50,40.10 L146.00,40.44 L146.50,40.78 L147.00,41.12 L147.50,41.47 L148.00,41.81 L148.50,42.16 L149.00,42.50 L149.50,42.85 L150.00,43.20 L150.50,43.55 L151.00,43.90 L151.50,44.25 L152.00,44.60 L152.50,44.96 L153.00,45.31 L153.50,45.67 L154.00,46.03 L154.50,46.39 L155.00,46.75 L155.50,47.11 L156.00,47.47 L156.50,47.83 L157.00,48.20 L157.50,48.56 L158.00,48.93 L158.50,49.29 L159.00,49.66 L159.50,50.03 L160.00,50.40 L160.50,50.77 L161.00,51.14 L161.50,51.51 L162.00,51.89 L162.50,52.26 L163.00,52.64 L163.50,53.01 L164.00,53.39 L164.50,53.77 L165.00,54.15 L165.50,54.53 L166.00,54.91 L166.50,55.29 L167.00,55.67 L167.50,56.06 L168.00,56.44 L168.50,56.83 L169.00,57.21 L169.50,57.60 L170.00,57.99 L170.50,58.38 L171.00,58.77 L171.50,59.16 L172.00,59.55 L172.50,59.94 L173.00,60.33 L173.50,60.72 L174.00,61.12 L174.50,61.51 L175.00,61.91 L175.50,62.31 L176.00,62.70 L176.50,63.10 L177.00,63.50 L177.50,63.90 L178.00,64.30 L178.50,64.70 L179.00,65.10 L179.50,65.50 L180.00,65.91 L180.50,66.31 L181.00,66.72 L181.50,67.12 L182.00,67.53 L182.50,67.93 L183.00,68.34 L183.50,68.75 L184.00,69.16 L184.50,69.56 L185.00,69.97 L185.50,70.38 L186.00,70.80 L186.50,71.21 L187.00,71.62 L187.50,72.03 L188.00,72.44 L188.50,72.86 L189.00,73.27 L189.50,73.69 L190.00,74.11 L190.50,74.53 L191.00,74.95 L191.50,75.37 L192.00,75.80 L192.50,76.23 L193.00,76.66 L193.50,77.10 L194.00,77.54 L194.50,77.98 L195.00,78.43 L195.50,78.89 L196.00,79.34 L196.50,79.81 L197.00,80.28 L197.50,80.75 L198.00,81.23 L198.50,81.72 L199.00,82.22 L199.50,82.72 L200.00,83.23 L200.50,83.74 L201.00,84.27 L201.50,84.80 L202.00,85.34 L202.50,85.89 L203.00,86.45 L203.50,87.02 L204.00,87.59 L204.50,88.18 L205.00,88.78 L205.50,89.38 L206.00,90.00 L206.50,90.63 L207.00,91.26 L207.50,91.90 L208.00,92.56 L208.50,93.22 L209.00,93.89 L209.50,94.57 L210.00,95.25 L210.50,95.95 L211.00,96.65 L211.50,97.37 L212.00,98.09 L212.50,98.82 L213.00,99.55 L213.50,100.30 L214.00,101.05 L214.50,101.81 L215.00,102.58 L215.50,103.35 L216.00,104.13 L216.50,104.92 L217.00,105.72 L217.50,106.52 L218.00,107.33 L218.50,108.15 L219.00,108.97 L219.50,109.80 L220.00,110.64 L220.50,111.48 L221.00,112.33 L221.50,113.18 L222.00,114.04 L222.50,114.91 L223.00,115.78 L223.50,116.66 L224.00,117.54 L224.50,118.43 L225.00,119.33 L225.50,120.22 L226.00,121.13 L226.50,122.04 L227.00,122.95 L227.50,123.87 L228.00,124.80 L228.50,125.72 L229.00,126.66 L229.50,127.59 L230.00,128.53 L230.50,129.48 L231.00,130.43 L231.50,131.38 L232.00,132.34 L232.50,133.30 L233.00,134.26 L233.50,135.23 L234.00,136.20 L234.50,137.18 L235.00,138.15 L235.50,139.13 L236.00,140.12 L236.50,141.10 L237.00,142.09 L237.50,143.08 L238.00,144.08 L238.50,145.07 L239.00,146.07 L239.50,147.07 L240.00,148.07 L240.50,149.08 L241.00,150.08 L241.50,151.09 L242.00,152.10 L242.50,153.12 L243.00,154.13 L243.50,155.15 L244.00,156.17 L244.50,157.19 L245.00,158.21 L245.50,159.24 L246.00,160.27 L246.50,161.30 L247.00,162.33 L247.50,163.37 L248.00,164.41 L248.50,165.45 L249.00,166.49 L249.50,167.54 L250.00,168.59 L250.50,169.64 L251.00,170.69 L251.50,171.75 L252.00,172.81 L252.50,173.88 L253.00,174.94 L253.50,176.01 L254.00,177.08 L254.50,178.16 L255.00,179.24 L255.50,180.32 L256.00,181.40 L256.50,182.49 L257.00,183.58 L257.50,184.52 L258.00,185.38 L258.50,186.14 L259.00,186.83 L259.50,187.48 L260.00,188.11 L260.50,188.72 L261.00,189.56 L261.50,190.39 L262.00,191.01 L262.50,191.61 L263.00,191.87 L263.50,192.12 L264.00,192.89 L264.50,193.67 L265.00,193.96 L265.50,194.23 L266.00,194.76 L266.50,195.28 L267.00,195.87 L267.50,196.45 L268.00,196.85 L268.50,197.25 L269.00,198.07 L269.50,198.89 L270.00,199.05 L270.50,199.19 L271.00,199.28 L271.50,199.36 L272.00,200.16 L272.50,200.98 L273.00,201.18 L273.50,201.39 L274.00,201.80 L274.50,202.24 L275.00,202.22 L275.50,202.22 L276.00,203.36 L276.50,204.52 L277.00,205.16 L277.50,205.80 L278.00,206.34 L278.50,206.85 L279.00,207.32 L279.50,207.76 L280.00,208.32 L280.50,208.87 L281.00,208.90 L281.50,208.92 L282.00,209.34 L282.50,209.78 L283.00,209.83 L283.50,209.90 L284.00,210.32 L284.50,210.81 L285.00,211.73 L285.50,212.72 L286.00,213.36 L286.50,213.94 L287.00,214.04 L287.50,214.11 L288.00,214.93 L288.50,215.71 L289.00,216.02 L289.50,216.21 L290.00,216.18 L290.50,215.93 L291.00,215.91 L291.50,215.89 L292.00,215.66 L292.50,215.80 L293.00,216.08 L293.50,216.55 L294.00,217.39 L294.50,218.06 L295.00,219.07 L295.50,219.83 L296.00,219.29 L296.50,218.73 L297.00,219.09 L297.50,219.46 L298.00,219.79 L298.50,220.20 L299.00,220.62 L299.50,221.19 L300.00,221.31 L300.50,221.50 L301.00,222.30 L301.50,223.09 L302.00,223.91 L302.50,224.66 L303.00,225.38 L303.50,226.11 L304.00,226.39 L304.50,226.66 L305.00,226.98 L305.50,227.28 L306.00,228.19 L306.50,229.05 L307.00,229.49 L307.50,229.88 L308.00,230.05 L308.50,230.19 L309.00,230.08 L309.50,229.97 L310.00,230.34 L310.50,230.71 L311.00,230.90 L311.50,231.11 L312.00,231.48 L312.50,231.96 L313.00,231.82 L313.50,231.76 L314.00,232.56 L314.50,233.37 L315.00,233.80 L315.50,234.17 L316.00,234.43 L316.50,234.57 L317.00,235.09 L317.50,235.57 L318.00,235.78 L318.50,235.98 L319.00,236.01 L319.50,236.05 L320.00,236.58 L320.50,237.14 L321.00,236.91 L321.50,236.69 L322.00,237.30 L322.50,237.94 L323.00,238.40 L323.50,238.93 L324.00,239.45 L324.50,240.00 L325.00,240.66 L325.50,241.30 L326.00,241.16 L326.50,240.94 L327.00,241.08 L327.50,241.20 L328.00,242.04 L328.50,242.87 L329.00,243.58 L329.50,244.29 L330.00,245.20 L330.50,246.11 L331.00,246.08 L331.50,246.05 L332.00,245.74 L332.50,245.43 L333.00,246.09 L333.50,246.76 L334.00,246.69 L334.50,246.63 L335.00,246.69 L335.50,246.75 L336.00,248.15 L336.50,249.55 L337.00,249.51 L337.50,249.47 L338.00,249.82 L338.50,250.18 L339.00,250.52 L339.50,250.86 L340.00,251.60 L340.50,252.35 L341.00,252.13 L341.50,251.91 L342.00,252.34 L342.50,252.77 L343.00,252.63 L343.50,252.49 L344.00,252.56 L344.50,252.64 L345.00,253.69 L345.50,254.73 L346.00,255.35 L346.50,255.96 L347.00,256.00 L347.50,256.05 L348.00,256.05 L348.50,256.05 L349.00,256.13 L349.50,256.21 L350.00,256.15 L350.50,256.08 L351.00,257.18 L351.50,258.27 L352.00,258.54 L352.50,258.81 L353.00,259.08 L353.50,259.35 L354.00,259.69 L354.50,260.02 L355.00,260.65 L355.50,261.28 L356.00,261.30 L356.50,261.34 L357.00,261.76 L357.50,262.19 L358.00,261.92 L358.50,261.67 L359.00,262.45 L359.50,263.28 L360.00,264.47 L360.50,265.68 L361.00,265.56 L361.50,265.43 L362.00,265.92 L362.50,266.38 L363.00,267.04 L363.50,267.63 L364.00,268.07 L364.50,268.48 L365.00,268.94 L365.50,269.38 L366.00,268.79 L366.50,268.19 L367.00,268.79 L367.50,269.39 L368.00,269.27 L368.50,269.15 L369.00,269.50 L369.50,269.85 L370.00,270.64 L370.50,271.42 L371.00,271.42 L371.50,271.41 L372.00,272.12 L372.50,272.82 L373.00,273.86 L373.50,274.90" stroke="#008000" stroke-width="1.15"/>
</g>
<path d="M44.45,0 V275.5 M44,275.15 H374" stroke="#7c7c7c" stroke-width="0.9" fill="none"/>
<path d="M373.5,0 V275.6" stroke="#505050" stroke-width="1" fill="none"/>
<rect x="69.7" y="181.3" width="121.8" height="72.89999999999998" fill="#ffffff" stroke="#505050" stroke-width="1"/>
<rect x="78" y="189.80" width="16.1" height="5.4" fill="#000000" fill-opacity="0.32"/>
<path d="M78,192.50 H94.1" stroke="#111111" stroke-width="1.6"/>
<text transform="translate(99.68,198.45) scale(1.0346,1)" font-family="Liberation Sans, sans-serif" font-size="10.2" fill="#1c1c1c" >AdaGrad,</text>
<text transform="translate(147.46,198.45) scale(1.1277,1)" font-family="Liberation Sans, sans-serif" font-size="10.2" fill="#1c1c1c" >N=2</text>
<rect x="78" y="205.90" width="16.1" height="5.4" fill="#0000ff" fill-opacity="0.32"/>
<path d="M78,208.60 H94.1" stroke="#0000ff" stroke-width="1.2"/>
<text transform="translate(99.68,214.50) scale(1.0346,1)" font-family="Liberation Sans, sans-serif" font-size="10.2" fill="#1c1c1c" >AdaGrad,</text>
<text transform="translate(147.46,214.50) scale(1.1181,1)" font-family="Liberation Sans, sans-serif" font-size="10.2" fill="#1c1c1c" >N=10</text>
<rect x="78" y="222.00" width="16.1" height="5.4" fill="#ff0000" fill-opacity="0.32"/>
<path d="M78,224.70 H94.1" stroke="#ff0000" stroke-width="1.2"/>
<text transform="translate(99.68,230.55) scale(1.0346,1)" font-family="Liberation Sans, sans-serif" font-size="10.2" fill="#1c1c1c" >AdaGrad,</text>
<text transform="translate(147.46,230.55) scale(1.1181,1)" font-family="Liberation Sans, sans-serif" font-size="10.2" fill="#1c1c1c" >N=30</text>
<rect x="78" y="238.10" width="16.1" height="5.4" fill="#008000" fill-opacity="0.32"/>
<path d="M78,240.80 H94.1" stroke="#008000" stroke-width="1.3"/>
<text transform="translate(98.95,246.60) scale(1.0084,1)" font-family="Liberation Sans, sans-serif" font-size="10.2" fill="#1c1c1c" >IP-AdaGrad</text>
<text transform="translate(157.01,246.60) scale(1.0650,1)" font-family="Liberation Sans, sans-serif" font-size="10.2" fill="#1c1c1c" >Hybrid</text>
<text transform="translate(28.07,6.99) scale(1.0280,1)" font-family="Liberation Sans, sans-serif" font-size="10.7" fill="#1c1c1c" >0.5</text>
<text transform="translate(37.11,39.85) scale(0.9384,1)" font-family="Liberation Sans, sans-serif" font-size="10.7" fill="#1c1c1c" >0</text>
<text transform="translate(24.84,72.71) scale(0.9707,1)" font-family="Liberation Sans, sans-serif" font-size="10.7" fill="#1c1c1c" >-0.5</text>
<text transform="translate(33.67,105.57) scale(0.9042,1)" font-family="Liberation Sans, sans-serif" font-size="10.7" fill="#1c1c1c" >-1</text>
<text transform="translate(24.84,138.43) scale(0.9707,1)" font-family="Liberation Sans, sans-serif" font-size="10.7" fill="#1c1c1c" >-1.5</text>
<text transform="translate(33.66,171.29) scale(0.9176,1)" font-family="Liberation Sans, sans-serif" font-size="10.7" fill="#1c1c1c" >-2</text>
<text transform="translate(24.84,204.15) scale(0.9707,1)" font-family="Liberation Sans, sans-serif" font-size="10.7" fill="#1c1c1c" >-2.5</text>
<text transform="translate(33.67,237.01) scale(0.9103,1)" font-family="Liberation Sans, sans-serif" font-size="10.7" fill="#1c1c1c" >-3</text>
<text transform="translate(24.84,269.87) scale(0.9707,1)" font-family="Liberation Sans, sans-serif" font-size="10.7" fill="#1c1c1c" >-3.5</text>
<text transform="translate(41.62,286.70) scale(1.0000,1)" font-family="Liberation Sans, sans-serif" font-size="10.7" fill="#1c1c1c" >0</text>
<text transform="translate(94.58,286.70) scale(1.0000,1)" font-family="Liberation Sans, sans-serif" font-size="10.7" fill="#1c1c1c" >1</text>
<text transform="translate(147.82,286.70) scale(1.0000,1)" font-family="Liberation Sans, sans-serif" font-size="10.7" fill="#1c1c1c" >2</text>
<text transform="translate(200.96,286.70) scale(1.0000,1)" font-family="Liberation Sans, sans-serif" font-size="10.7" fill="#1c1c1c" >3</text>
<text transform="translate(253.46,286.70) scale(1.0000,1)" font-family="Liberation Sans, sans-serif" font-size="10.7" fill="#1c1c1c" >4</text>
<text transform="translate(306.54,286.70) scale(1.0000,1)" font-family="Liberation Sans, sans-serif" font-size="10.7" fill="#1c1c1c" >5</text>
<text transform="translate(359.59,286.70) scale(1.0000,1)" font-family="Liberation Sans, sans-serif" font-size="10.7" fill="#1c1c1c" >6</text>
<text transform="translate(197.99,306.80) scale(1.1758,1)" font-family="Liberation Sans, sans-serif" font-size="12.8" fill="#000" >log</text>
<text transform="translate(218.55,309.80) scale(1.1563,1)" font-family="Liberation Sans, sans-serif" font-size="8.5" fill="#000" >10</text>
<text transform="translate(230.31,306.80) scale(1.1245,1)" font-family="Liberation Sans, sans-serif" font-size="12.8" fill="#000" >(t)</text>
<g transform="translate(0,200) rotate(-90)">
<text transform="translate(8.07,10.20) scale(1.0784,1)" font-family="Liberation Sans, sans-serif" font-size="12.8" fill="#000" >log</text>
<text transform="translate(27.52,13.30) scale(1.2035,1)" font-family="Liberation Sans, sans-serif" font-size="8.5" fill="#000" >10</text>
<text transform="translate(39.28,10.20) scale(1.1641,1)" font-family="Liberation Sans, sans-serif" font-size="12.8" fill="#000" >(E[</text>
<text transform="translate(58.63,10.55) scale(1.1571,1)" font-family="Liberation Sans, sans-serif" font-size="14.2" fill="#000" >||</text>
<text transform="translate(68.26,10.20) scale(0.9297,1)" font-family="Liberation Sans, sans-serif" font-size="13.5" fill="#000" >x</text>
<text transform="translate(75.15,12.90) scale(1.1383,1)" font-family="Liberation Sans, sans-serif" font-size="8.5" fill="#000" >k</text>
<text transform="translate(81.25,10.95) scale(0.6400,1)" font-family="Liberation Sans, sans-serif" font-size="16.0" fill="#000" >-</text>
<text transform="translate(85.86,10.20) scale(0.9143,1)" font-family="Liberation Sans, sans-serif" font-size="13.5" fill="#000" >x</text>
<text transform="translate(93.44,13.00) scale(0.9545,1)" font-family="Liberation Sans, sans-serif" font-size="17.0" fill="#000" >*</text>
<text transform="translate(100.18,10.55) scale(1.1984,1)" font-family="Liberation Sans, sans-serif" font-size="14.2" fill="#000" >||</text>
<text transform="translate(108.79,6.60) scale(1.1879,1)" font-family="Liberation Sans, sans-serif" font-size="8.5" fill="#000" >2</text>
<text transform="translate(115.08,10.20) scale(1.2419,1)" font-family="Liberation Sans, sans-serif" font-size="12.8" fill="#000" >])</text>
</g>
</svg>
</body></html>
